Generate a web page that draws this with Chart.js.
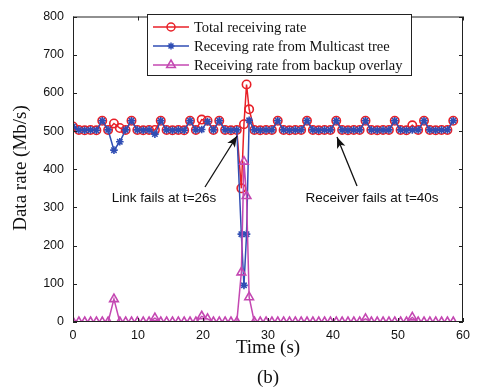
<!DOCTYPE html>
<html>
<head>
<meta charset="utf-8">
<script src="https://cdn.jsdelivr.net/npm/chart.js@4/dist/chart.umd.min.js"></script>
<style>
html,body{margin:0;padding:0;background:#fff;}
#wrap{width:479px;height:392px;position:relative;}
</style>
</head>
<body>
<div id="wrap"><canvas id="c" width="479" height="392"></canvas></div>
<script>
// ---- data ----
const times = [0,0.9,1.8,2.7,3.6,4.5,5.4,6.3,7.2,8.1,9,9.9,10.8,11.7,12.6,13.5,14.4,15.3,16.2,17.1,18,18.9,19.8,20.7,21.6,22.5,23.4,24.3,25.2,
  25.9,26.3,26.7,27.1,
  27.9,28.8,29.7,30.6,31.5,32.4,33.3,34.2,35.1,36,36.9,37.8,38.7,39.6,40.5,41.4,42.3,43.2,44.1,45,45.9,46.8,47.7,48.6,49.5,50.4,51.3,52.2,53.1,54,54.9,55.8,56.7,57.6,58.5];
const totalRate = [512,503,502,503,502,527,503,520,508,503,527,503,502,503,503,527,503,502,503,502,527,503,530,527,503,527,503,502,503,
  350,518,622,557,
  503,502,503,503,527,503,502,503,503,527,503,502,503,503,527,503,502,503,503,527,503,502,503,503,527,503,502,515,503,527,503,502,503,503,527];
const multicastRate = [512,503,502,503,502,527,503,450,472,503,527,503,502,503,492,527,503,502,503,502,527,503,504,525,503,527,503,502,503,
  230,96,230,528,
  503,502,503,503,527,503,502,503,503,527,503,502,503,503,527,503,502,503,503,527,503,502,503,503,527,503,502,503,503,527,503,502,503,503,527];
const backupRate = [0,0,0,0,0,0,0,60,0,0,0,0,0,0,10,0,0,0,0,0,0,0,15,8,0,0,0,0,0,
  130,420,330,65,
  0,0,0,0,0,0,0,0,0,0,0,0,0,0,0,0,0,0,0,8,0,0,0,0,0,0,0,12,0,0,0,0,0,0,0];
const seriesLabels = ['Total receiving rate','Receving rate from Multicast tree','Receiving rate from backup overlay'];
const xTicks = [0,10,20,30,40,50,60];
const yTicks = [0,100,200,300,400,500,600,700,800];

const RED = 'rgb(232,32,40)', BLUE = 'rgb(48,78,180)', MAG = 'rgb(196,72,178)';
const pts = arr => times.map((t,i)=>({x:t,y:arr[i]}));

function drawMarker(ctx, style, color, x, y){
  ctx.save();
  ctx.strokeStyle = color; ctx.lineWidth = 1.5;
  ctx.beginPath();
  if(style==='circle'){ ctx.arc(x,y,4,0,Math.PI*2); }
  else if(style==='star'){
    const r=3.5;
    for(let k=0;k<4;k++){const a=k*Math.PI/4; ctx.moveTo(x-r*Math.cos(a),y-r*Math.sin(a)); ctx.lineTo(x+r*Math.cos(a),y+r*Math.sin(a));}
  } else {
    const r=5;
    ctx.moveTo(x,y-r); ctx.lineTo(x+r*0.87,y+r*0.5); ctx.lineTo(x-r*0.87,y+r*0.5); ctx.closePath();
  }
  ctx.stroke();
  ctx.restore();
}

const decor = {
  id:'decor',
  afterDatasetsDraw(chart){
    const ctx = chart.ctx, a = chart.chartArea, xs = chart.scales.x, ys = chart.scales.y;
    ctx.save();
    // box
    ctx.strokeStyle='#222'; ctx.lineWidth=1;
    ctx.strokeRect(a.left+0.5,a.top+0.5,a.right-a.left-1,a.bottom-a.top-1);
    // inward ticks
    ctx.beginPath();
    xTicks.forEach(v=>{const px=Math.round(xs.getPixelForValue(v))+0.5; ctx.moveTo(px,a.bottom); ctx.lineTo(px,a.bottom-4); ctx.moveTo(px,a.top); ctx.lineTo(px,a.top+4);});
    yTicks.forEach(v=>{const py=Math.round(ys.getPixelForValue(v))+0.5; ctx.moveTo(a.left,py); ctx.lineTo(a.left+4,py); ctx.moveTo(a.right,py); ctx.lineTo(a.right-4,py);});
    ctx.stroke();
    // annotations
    ctx.fillStyle='#111'; ctx.font='13.5px "Liberation Sans", Arial, sans-serif';
    ctx.textAlign='center'; ctx.textBaseline='middle';
    ctx.fillText('Link fails at t=26s',164,198);
    ctx.fillText('Receiver fails at t=40s',372,198);
    const arrow=(x1,y1,x2,y2)=>{
      ctx.strokeStyle='#111'; ctx.lineWidth=1.3; ctx.beginPath(); ctx.moveTo(x1,y1); ctx.lineTo(x2,y2); ctx.stroke();
      const ang=Math.atan2(y2-y1,x2-x1), L=12, W=0.38;
      ctx.beginPath(); ctx.moveTo(x2,y2);
      ctx.lineTo(x2-L*Math.cos(ang-W),y2-L*Math.sin(ang-W));
      ctx.lineTo(x2-L*0.7*Math.cos(ang),y2-L*0.7*Math.sin(ang));
      ctx.lineTo(x2-L*Math.cos(ang+W),y2-L*Math.sin(ang+W)); ctx.closePath(); ctx.fillStyle='#111'; ctx.fill();
    };
    arrow(205,187,237,136);
    arrow(357,186,337,137);
    // legend
    const lx=147, ly=14, lw=264, lh=61;
    ctx.fillStyle='#fff'; ctx.fillRect(lx,ly,lw,lh);
    ctx.strokeStyle='#222'; ctx.lineWidth=1; ctx.strokeRect(lx+0.5,ly+0.5,lw,lh);
    const cols=[RED,BLUE,MAG], st=['circle','star','triangle'];
    ctx.font='14.5px "Liberation Serif", "Times New Roman", serif'; ctx.textAlign='left'; ctx.textBaseline='middle';
    [27,46,65].forEach((yy,i)=>{
      ctx.strokeStyle=cols[i]; ctx.lineWidth=1.5; ctx.beginPath(); ctx.moveTo(153,yy); ctx.lineTo(189,yy); ctx.stroke();
      drawMarker(ctx,st[i],cols[i],171,yy);
      ctx.fillStyle='#111'; ctx.fillText(seriesLabels[i],194,yy+1);
    });
    // axis titles
    ctx.font='19px "Liberation Serif", "Times New Roman", serif'; ctx.textAlign='center';
    ctx.fillText('Time (s)',268,348);
    ctx.fillText('(b)',268,378);
    ctx.save(); ctx.translate(21,168); ctx.rotate(-Math.PI/2); ctx.fillText('Data rate (Mb/s)',0,0); ctx.restore();
    ctx.restore();
  }
};

const ds = (label, arr, color, style, order) => ({
  label, data: pts(arr), borderColor: color, backgroundColor: 'rgba(0,0,0,0)',
  borderWidth: 1.5, pointStyle: style, pointRadius: style==='triangle'?5:(style==='star'?3.8:4.2),
  pointBorderColor: color, pointBackgroundColor: 'rgba(255,255,255,0)', pointBorderWidth: 1.6,
  tension: 0, order
});

new Chart(document.getElementById('c'), {
  type: 'line',
  data: { datasets: [
    ds(seriesLabels[0], totalRate, RED, 'circle', 3),
    ds(seriesLabels[1], multicastRate, BLUE, 'star', 2),
    ds(seriesLabels[2], backupRate, MAG, 'triangle', 1)
  ]},
  options: {
    responsive: false, animation: false, devicePixelRatio: 1,
    layout: { padding: { top: 14, right: 16, left: 0, bottom: 0 } },
    plugins: { legend: { display: false }, tooltip: { enabled: false } },
    scales: {
      x: { type: 'linear', min: 0, max: 60,
        afterBuildTicks: s => { s.ticks = xTicks.map(v=>({value:v})); },
        afterFit: s => { s.height = 70; },
        grid: { display: false, drawTicks: false }, border: { display: false },
        ticks: { padding: 6, color: '#111', font: { family: '"Liberation Sans", Arial, sans-serif', size: 12.5 }, maxRotation: 0 } },
      y: { min: 0, max: 800,
        afterBuildTicks: s => { s.ticks = yTicks.map(v=>({value:v})); },
        afterFit: s => { s.width = 73; },
        grid: { display: false, drawTicks: false }, border: { display: false },
        ticks: { padding: 9, color: '#111', font: { family: '"Liberation Sans", Arial, sans-serif', size: 12.5 } } }
    }
  },
  plugins: [decor]
});
</script>
</body>
</html>
